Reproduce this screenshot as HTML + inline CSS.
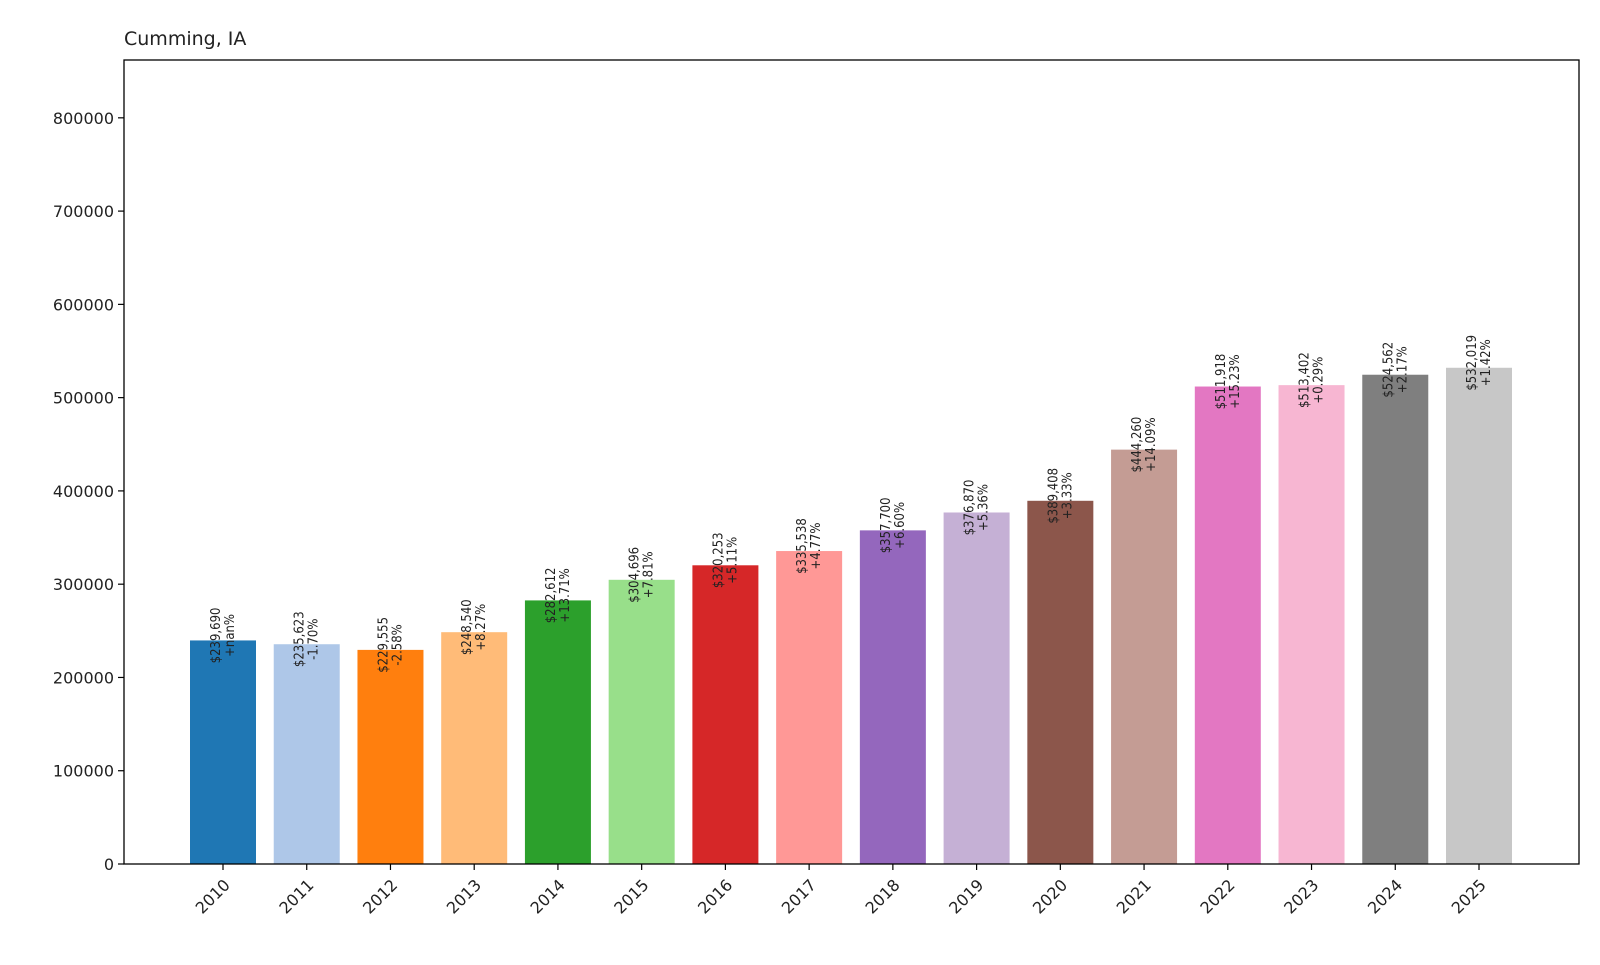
<!DOCTYPE html>
<html><head><meta charset="utf-8"><style>
body{margin:0;background:#fff}
svg text{font-family:"DejaVu Sans","Liberation Sans",sans-serif;fill:#222}
</style></head><body>
<svg id="chart" width="1600" height="960" xmlns="http://www.w3.org/2000/svg">
<text x="124" y="45" font-size="19">Cumming, IA</text>
<g id="plot"></g>
</svg>
<script>
const years=["2010","2011","2012","2013","2014","2015","2016","2017","2018","2019","2020","2021","2022","2023","2024","2025"];
const values=[239690,235623,229555,248540,282612,304696,320253,335538,357700,376870,389408,444260,511918,513402,524562,532019];
const changes=["+nan%","-1.70%","-2.58%","+8.27%","+13.71%","+7.81%","+5.11%","+4.77%","+6.60%","+5.36%","+3.33%","+14.09%","+15.23%","+0.29%","+2.17%","+1.42%"];
const yTicks=[0,100000,200000,300000,400000,500000,600000,700000,800000];
const colors=["#1f77b4","#aec7e8","#ff7f0e","#ffbb78","#2ca02c","#98df8a","#d62728","#ff9896","#9467bd","#c5b0d5","#8c564b","#c49c94","#e377c2","#f7b6d2","#7f7f7f","#c7c7c7"];
const L=124,R=1579,T=60,B=864,yMax=862000;
const ys=v=>B-(v/yMax)*(B-T);
const x0=223,step=(1479-223)/15,bw=66;
const xs=i=>x0+i*step;
const g=document.getElementById('plot');
const NS="http://www.w3.org/2000/svg";
function mk(t,a){const e=document.createElementNS(NS,t);for(const k in a)e.setAttribute(k,a[k]);g.appendChild(e);return e;}
values.forEach((v,i)=>{
 const r=mk('rect',{x:xs(i)-bw/2,y:ys(v),width:bw,height:B-ys(v),fill:colors[i]});
 
 
 const t=mk('text',{transform:`translate(${xs(i)},${ys(v)-5}) rotate(-90)`,'font-size':13});
 
 
 t.style.fontStretch='condensed';
 const a=document.createElementNS(NS,'tspan');a.setAttribute('x',0);a.setAttribute('dy',-3);a.setAttribute('text-anchor','middle');a.textContent='$'+v.toLocaleString('en-US');t.appendChild(a);
 const b=document.createElementNS(NS,'tspan');b.setAttribute('x',0);b.setAttribute('dy',14);b.setAttribute('text-anchor','middle');b.textContent=changes[i];t.appendChild(b);
 mk('line',{x1:xs(i),x2:xs(i),y1:B,y2:B+6,stroke:'#000','stroke-width':1.2});
 const xl=mk('text',{transform:`translate(${xs(i)+8},${B+22}) rotate(-45)`,'font-size':16,'text-anchor':'end'});
 
 
 xl.textContent=years[i];
});
yTicks.forEach(v=>{
 mk('line',{x1:L-6,x2:L,y1:ys(v),y2:ys(v),stroke:'#000','stroke-width':1.2});
 const t=mk('text',{x:L-10,y:ys(v)+6,'font-size':16,'text-anchor':'end'});
 
 
 t.textContent=v;
});
const fr=mk('rect',{x:L,y:T,width:R-L,height:B-T,fill:'none',stroke:'#000','stroke-width':1.3});


</script>
</body></html>
